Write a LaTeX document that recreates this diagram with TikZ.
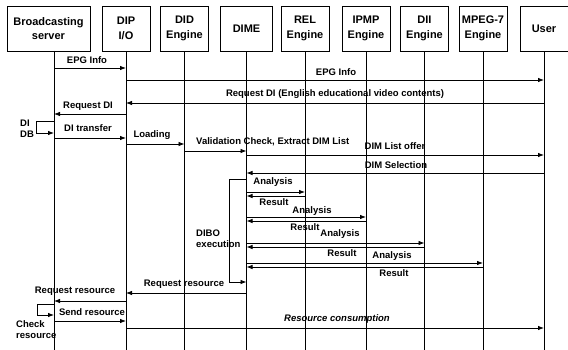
\documentclass[tikz,border=0pt]{standalone}
\usepackage{fontspec}
\setmainfont{Liberation Sans}
\usetikzlibrary{arrows.meta}

\begin{document}
\begin{tikzpicture}[
    x=1pt, y=-1pt,
    head/.style={draw, line width=0.9pt, minimum width=48pt, minimum height=45pt, inner sep=0pt, align=center, font=\fontsize{11}{14.5}\selectfont\bfseries},
    life/.style={line width=0.7pt},
    msg/.style={line width=0.8pt, -{Latex[length=6pt,width=4.5pt]}},
    lbl/.style={inner sep=0pt, font=\fontsize{9.5}{11}\selectfont\bfseries}
]
\useasboundingbox (0,0) rectangle (568,350);

% Define participants
\node[head, minimum width=83pt] (bs) at (48.5,28.5) {Broadcasting\\server};
\node[head] (dip) at (126,28.5) {DIP\\I/O};
\node[head] (did) at (184.5,28.5) {DID\\Engine};
\node[head, minimum width=52pt] (dime) at (246.5,28.5) {DIME};
\node[head] (rel) at (305,28.5) {REL\\Engine};
\node[head] (ipmp) at (366,28.5) {IPMP\\Engine};
\node[head] (dii) at (424.5,28.5) {DII\\Engine};
\node[head] (mpeg) at (483,28.5) {MPEG-7\\Engine};
\node[head] (user) at (544,28.5) {User};

% Define lifelines
\coordinate (bsl) at (54,51);
\draw[life] (bsl) -- (bsl |- 0,350);
\foreach \n in {dip,did,dime,rel,ipmp,dii,mpeg,user}
    \draw[life] (\n.south) -- (\n |- 0,350);

% Define messages
\draw[msg] (bsl |- 0,68) -- (dip |- 0,68);
\node[lbl] (epg1) at (87,60) {EPG Info};
\draw[msg] (dip |- 0,80) -- (user |- 0,80);
\node[lbl] (epg2) at (336,72) {EPG Info};
\draw[msg] (user |- 0,103) -- (dip |- 0,103);
\node[lbl] (reqdi1) at (335,94) {Request DI (English educational video contents)};
\draw[msg] (dip |- 0,114) -- (bsl |- 0,114);
\node[lbl] (reqdi2) at (88,106) {Request DI};
\draw[msg] (bsl |- 0,121) -- (36,121) |- (bsl |- 0,133);
\node[lbl, anchor=west, align=left] (didb) at (20,129) {DI\\DB};
\draw[msg] (bsl |- 0,138) -- (dip |- 0,138);
\node[lbl] (ditr) at (88,128) {DI transfer};
\draw[msg] (dip |- 0,144) -- (did |- 0,144);
\node[lbl] (load) at (152,135) {Loading};
\draw[msg] (did |- 0,151) -- (dime |- 0,151);
\node[lbl, anchor=west] (valid) at (196,142) {Validation Check, Extract DIM List};
\draw[msg] (dime |- 0,155) -- (user |- 0,155);
\node[lbl] (offer) at (395,146) {DIM List offer};
\draw[msg] (user |- 0,173) -- (dime |- 0,173);
\node[lbl] (select) at (396,165) {DIM Selection};

% DIBO execution
\draw[msg] (dime |- 0,179) -- (229,179) |- (dime |- 0,282);
\node[lbl, anchor=west, align=left] (dibo) at (196,239) {DIBO\\execution};
\draw[msg] (dime |- 0,192) -- (rel |- 0,192);
\node[lbl] (an1) at (273,182) {Analysis};
\draw[msg] (rel |- 0,196) -- (dime |- 0,196);
\node[lbl] (re1) at (274,202) {Result};
\draw[msg] (dime |- 0,217) -- (ipmp |- 0,217);
\node[lbl] (an2) at (312,211) {Analysis};
\draw[msg] (ipmp |- 0,221) -- (dime |- 0,221);
\node[lbl] (re2) at (305,227) {Result};
\draw[msg] (dime |- 0,243) -- (dii |- 0,243);
\node[lbl] (an3) at (340,234) {Analysis};
\draw[msg] (dii |- 0,247) -- (dime |- 0,247);
\node[lbl] (re3) at (342,253) {Result};
\draw[msg] (dime |- 0,263) -- (mpeg |- 0,263);
\node[lbl] (an4) at (392,256) {Analysis};
\draw[msg] (mpeg |- 0,267) -- (dime |- 0,267);
\node[lbl] (re4) at (394,273) {Result};

% Resources
\draw[msg] (dime |- 0,293) -- (dip |- 0,293);
\node[lbl] (reqres1) at (184,284) {Request resource};
\draw[msg] (dip |- 0,301) -- (bsl |- 0,301);
\node[lbl] (reqres2) at (75,291) {Request resource};
\draw[msg] (bsl |- 0,304) -- (37,304) |- (bsl |- 0,315);
\node[lbl, anchor=west, align=left] (check) at (16,330) {Check\\resource};
\draw[msg] (bsl |- 0,321) -- (dip |- 0,321);
\node[lbl] (send) at (92,312) {Send resource};
\draw[msg] (dip |- 0,328) -- (user |- 0,328);
\node[lbl, font=\fontsize{9.5}{11}\selectfont\bfseries\itshape] (consume) at (337,319) {Resource consumption};

\end{tikzpicture}
\end{document}
